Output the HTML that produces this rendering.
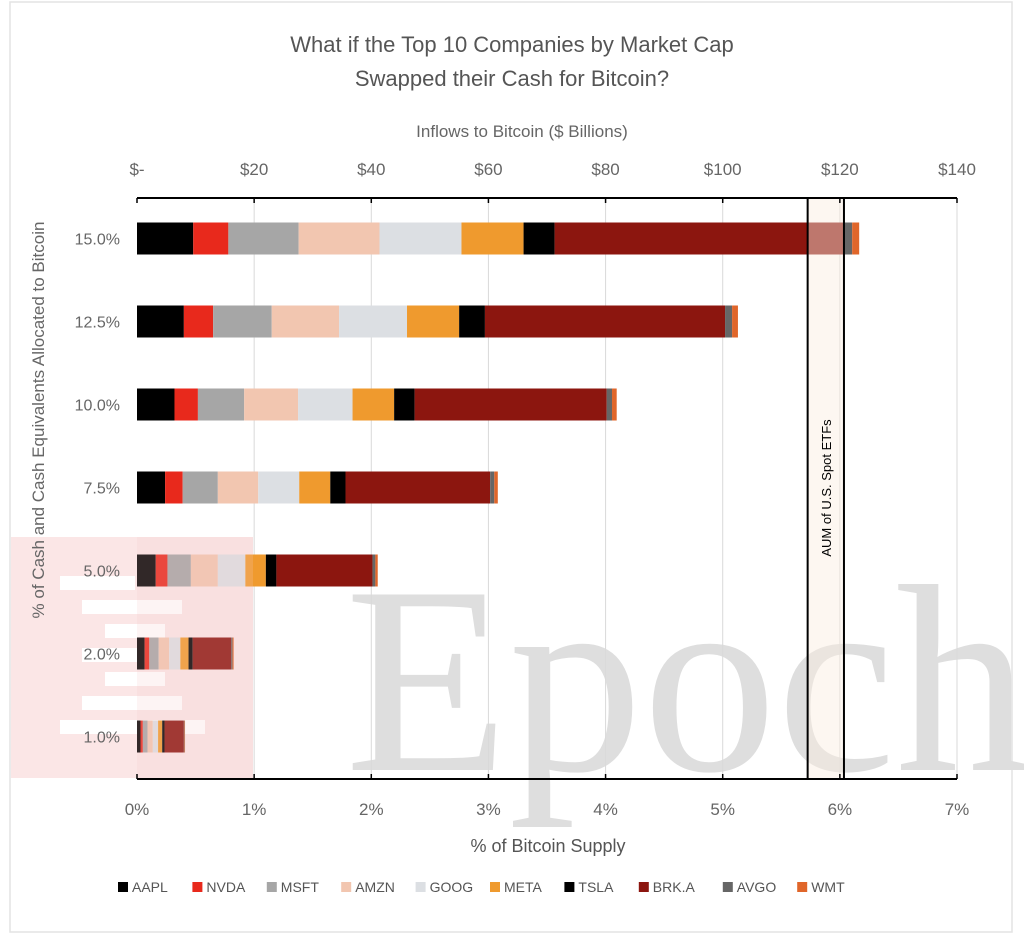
<!DOCTYPE html>
<html><head><meta charset="utf-8"><style>
body{margin:0;background:#fff;font-family:"Liberation Sans",sans-serif}
</style></head><body>
<svg id="chart" width="1024" height="937" viewBox="0 0 1024 937" xmlns="http://www.w3.org/2000/svg" font-family="Liberation Sans, sans-serif">
<rect x="0" y="0" width="1024" height="937" fill="#fff"/>
<rect x="10" y="2" width="1002" height="930" fill="none" stroke="#e3e3e3" stroke-width="1.5"/>
<text x="512" y="52" font-size="22" fill="#555" text-anchor="middle">What if the Top 10 Companies by Market Cap</text>
<text x="512" y="86" font-size="22" fill="#555" text-anchor="middle">Swapped their Cash for Bitcoin?</text>
<text x="522" y="137" font-size="17" fill="#666" text-anchor="middle">Inflows to Bitcoin ($ Billions)</text>
<text x="548" y="852" font-size="18" fill="#555" text-anchor="middle">% of Bitcoin Supply</text>
<g id="wm"></g>
<text transform="translate(44,420) rotate(-90)" font-size="17" fill="#666" text-anchor="middle">% of Cash and Cash Equivalents Allocated to Bitcoin</text>
<g id="grid"></g>
<g id="bars"></g>
<g id="overlay"></g>
<g id="axes"></g>
<g id="legend"></g>
</svg>
<script>
const rowLabels=["15.0%","12.5%","10.0%","7.5%","5.0%","2.0%","1.0%"];
const companies=["AAPL","NVDA","MSFT","AMZN","GOOG","META","TSLA","BRK.A","AVGO","WMT"];
const colors=["#000000","#e8291c","#a6a6a6","#f2c6b0","#dcdfe3","#ef9a2e","#000000","#8c160f","#666666","#e0662a"];
const AAPL=[9.6,8.0,6.4,4.8,3.2,1.3,0.6];
const NVDA=[6.0,5.0,4.0,3.0,2.0,0.8,0.4];
const MSFT=[12.0,10.0,7.9,6.0,4.0,1.6,0.8];
const AMZN=[13.8,11.5,9.2,6.9,4.6,1.8,0.9];
const GOOG=[14.0,11.6,9.3,7.0,4.7,1.9,0.9];
const META=[10.6,8.9,7.1,5.3,3.5,1.4,0.7];
const TSLA=[5.3,4.4,3.5,2.6,1.8,0.7,0.4];
const BRK=[49.4,41.0,32.8,24.7,16.4,6.6,3.3];
const AVGO=[1.4,1.2,0.9,0.7,0.5,0.2,0.1];
const WMT=[1.2,1.0,0.8,0.6,0.4,0.2,0.1];
const series=[AAPL,NVDA,MSFT,AMZN,GOOG,META,TSLA,BRK,AVGO,WMT];
const topTicks=[0,20,40,60,80,100,120,140];
const topTickLabels=["$-","$20","$40","$60","$80","$100","$120","$140"];
const bottomTickLabels=["0%","1%","2%","3%","4%","5%","6%","7%"];
const etfRange=[114.5,120.7];

const X0=137,X1=957,Ymax=140,TOP=198,BOT=779;
const x=v=>X0+(v/Ymax)*(X1-X0);
const rowH=(BOT-TOP)/rowLabels.length;
const yc=i=>TOP+rowH*(i+0.5)-1;
const NS="http://www.w3.org/2000/svg";
function mk(tag,attrs,parent){const e=document.createElementNS(NS,tag);for(const k in attrs)e.setAttribute(k,attrs[k]);parent.appendChild(e);return e;}
const G=id=>document.getElementById(id);

const wm=mk('text',{x:345,y:770,'font-size':268,fill:'#dedede','font-family':'Liberation Serif, serif'},G('wm'));wm.textContent="Epoch";


const pk=mk('rect',{x:11,y:537,width:242,height:241,fill:'#fbe6e6'},G('wm'));


[[60,576,75],[82,600,100],[105,624,60],[82,648,100],[105,672,60],[82,696,100],[60,720,145]].forEach(s=>{
  const r=mk('rect',{x:s[0],y:s[1],width:s[2],height:14,fill:'#fff'},G('wm'));
  
  
});

topTicks.forEach((t,i)=>{
  if(i>0){const l=mk('line',{x1:x(t),x2:x(t),y1:TOP,y2:BOT,stroke:'#d9d9d9','stroke-width':1},G('grid'));
  
  }
  const a=mk('text',{x:x(t),y:175,'font-size':17,fill:'#666','text-anchor':'middle'},G('axes'));a.textContent=topTickLabels[i];
  
  
  const b=mk('text',{x:x(t),y:815,'font-size':17,fill:'#666','text-anchor':'middle'},G('axes'));b.textContent=bottomTickLabels[i];
  
  
  mk('line',{x1:x(t),x2:x(t),y1:TOP,y2:TOP+5,stroke:'#000','stroke-width':1.5},G('axes'));
  mk('line',{x1:x(t),x2:x(t),y1:BOT,y2:BOT-5,stroke:'#000','stroke-width':1.5},G('axes'));
});
const ta=mk('line',{x1:X0,x2:X1,y1:TOP,y2:TOP,stroke:'#000','stroke-width':2},G('axes'));


const ba=mk('line',{x1:X0,x2:X1,y1:BOT,y2:BOT,stroke:'#000','stroke-width':2},G('axes'));



rowLabels.forEach((r,i)=>{
  const t=mk('text',{x:120,y:yc(i)+6,'font-size':16,fill:'#666','text-anchor':'end'},G('axes'));t.textContent=r;
  
  
  let acc=0;
  series.forEach((s,k)=>{
    const rc=mk('rect',{x:x(acc),y:yc(i)-16,width:x(acc+s[i])-x(acc),height:32,fill:colors[k]},G('bars'));
    
    
    acc+=s[i];
  });
});

const band=mk('rect',{x:x(etfRange[0]),y:TOP,width:x(etfRange[1])-x(etfRange[0]),height:BOT-TOP,fill:'#fbeee0','fill-opacity':0.45,stroke:'#000','stroke-width':2},G('overlay'));


const bt=mk('text',{transform:`translate(${(x(etfRange[0])+x(etfRange[1]))/2+5},488) rotate(-90)`,'font-size':13,fill:'#000','text-anchor':'middle'},G('overlay'));bt.textContent="AUM of U.S. Spot ETFs";



const tint=mk('rect',{x:137,y:537,width:116,height:241,fill:'#f5c8c8','fill-opacity':0.2},G('overlay'));



let lx=118;
companies.forEach((c,k)=>{
  const g=mk('g',{},G('legend'));
  
  
  mk('rect',{x:lx,y:882,width:10,height:10,fill:colors[k]},g);
  const t=mk('text',{x:lx+14,y:892,'font-size':14,fill:'#555'},g);t.textContent=c;
  lx+=14+c.length*9.6+22;
});
</script>
</body></html>
